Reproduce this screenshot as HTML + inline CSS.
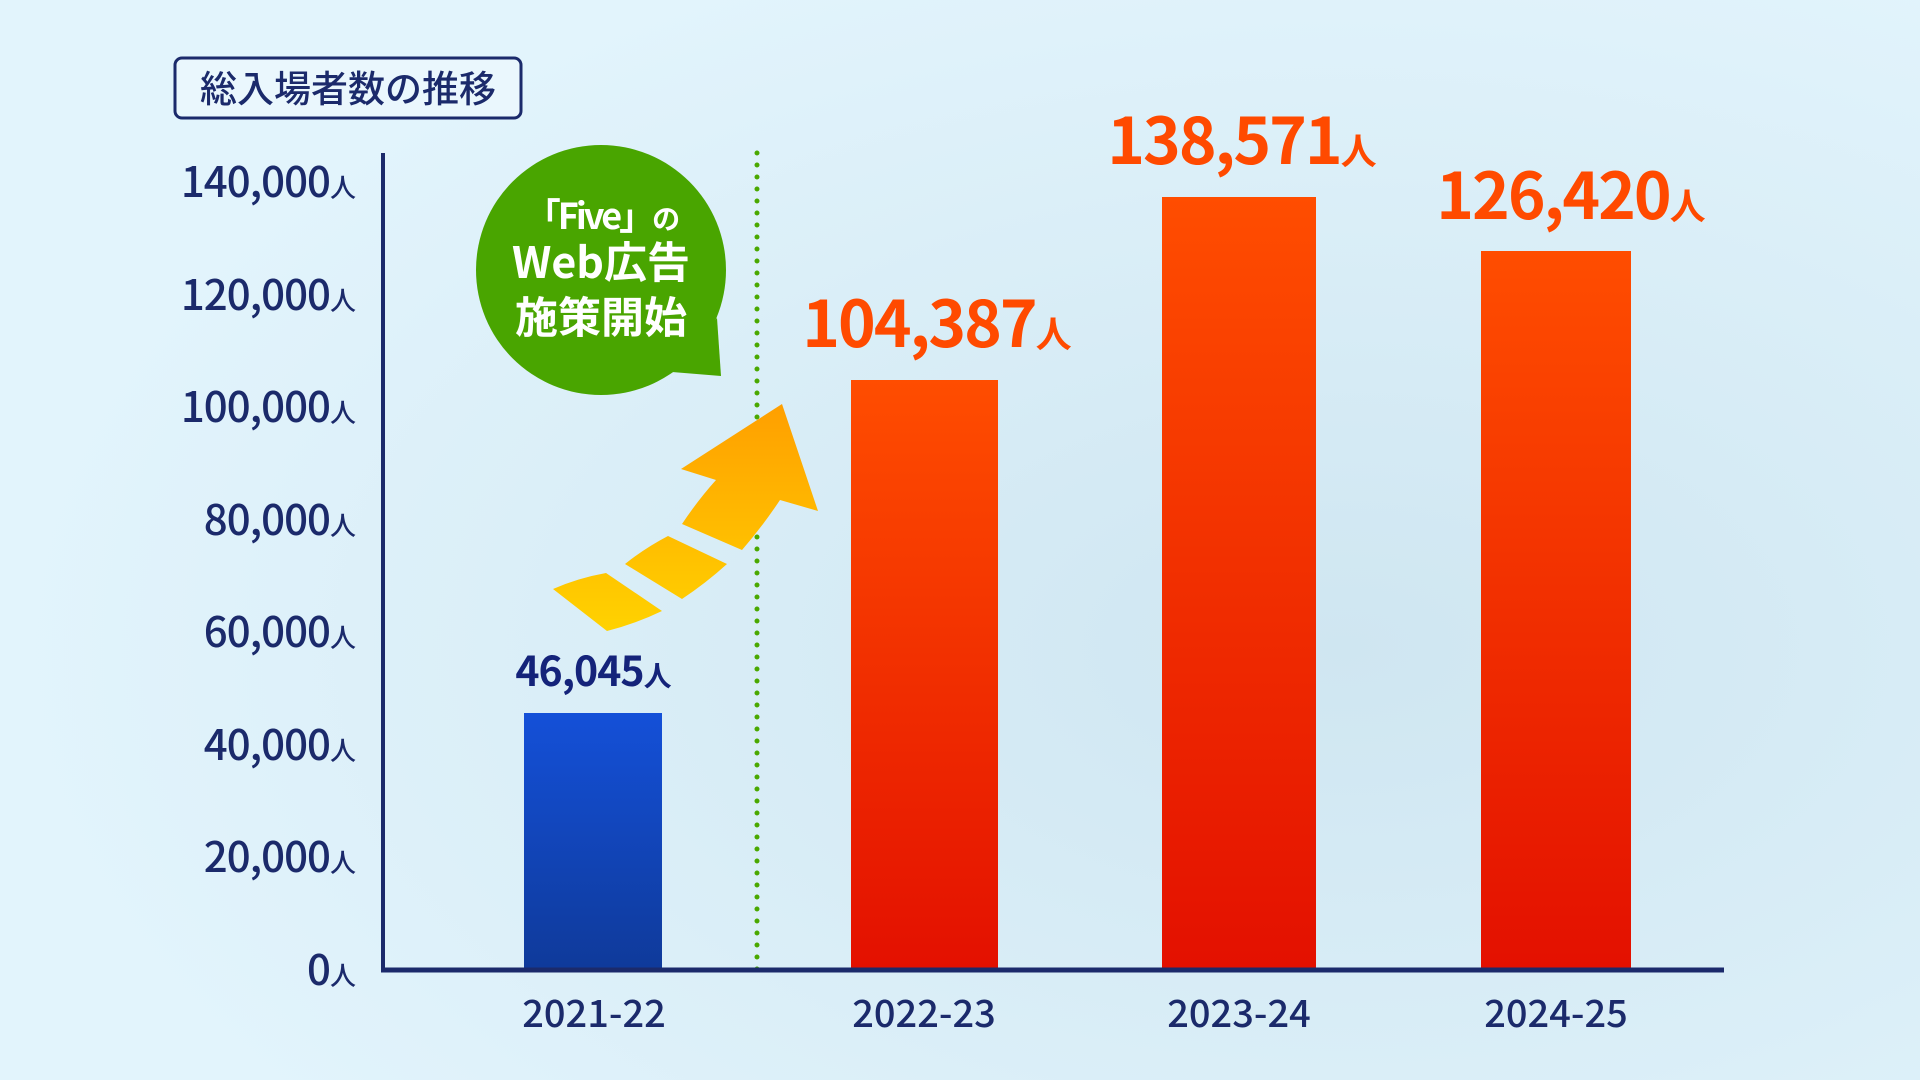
<!DOCTYPE html>
<html><head><meta charset="utf-8"><style>
html,body{margin:0;padding:0;width:1920px;height:1080px;overflow:hidden;background:#dff1fb}
svg{display:block}
text{font-family:"Noto Sans CJK JP","Liberation Sans",sans-serif}
</style></head><body>
<svg width="1920" height="1080" viewBox="0 0 1920 1080" xmlns="http://www.w3.org/2000/svg">
<defs>
<radialGradient id="bg1" cx="0.7" cy="0.6" r="0.7"><stop offset="0" stop-color="#cfe6f1"/><stop offset="1" stop-color="#e2f4fc"/></radialGradient>
<linearGradient id="red" x1="0" y1="0" x2="0" y2="1"><stop offset="0" stop-color="#ff4d00"/><stop offset="1" stop-color="#e31000"/></linearGradient>
<linearGradient id="blue" x1="0" y1="0" x2="0" y2="1"><stop offset="0" stop-color="#1450d8"/><stop offset="1" stop-color="#0f3a9a"/></linearGradient>
<linearGradient id="arrg" x1="0" y1="404" x2="0" y2="631" gradientUnits="userSpaceOnUse"><stop offset="0" stop-color="#ff9f00"/><stop offset="1" stop-color="#ffd200"/></linearGradient>
</defs>
<rect width="1920" height="1080" fill="url(#bg1)"/>
<rect x="175" y="58" width="346" height="60" rx="7" fill="#eaf7fd" stroke="#1b2a6b" stroke-width="3"/>
<text x="348" y="102" font-size="37" fill="#1b2a6b" text-anchor="middle" font-weight="500">総入場者数の推移</text>
<g fill="#1b2a6b" font-size="42" text-anchor="end" font-weight="500" letter-spacing="-1">
<text x="355" y="197">140,000<tspan font-size="26">人</tspan></text>
<text x="355" y="310">120,000<tspan font-size="26">人</tspan></text>
<text x="355" y="422">100,000<tspan font-size="26">人</tspan></text>
<text x="355" y="535">80,000<tspan font-size="26">人</tspan></text>
<text x="355" y="647">60,000<tspan font-size="26">人</tspan></text>
<text x="355" y="760">40,000<tspan font-size="26">人</tspan></text>
<text x="355" y="872">20,000<tspan font-size="26">人</tspan></text>
<text x="355" y="985">0<tspan font-size="26">人</tspan></text>
</g>
<rect x="524" y="713" width="138" height="257" fill="url(#blue)"/>
<rect x="851" y="380" width="147" height="590" fill="url(#red)"/>
<rect x="1162" y="197" width="154" height="773" fill="url(#red)"/>
<rect x="1481" y="251" width="150" height="719" fill="url(#red)"/>
<line x1="757" y1="153" x2="757" y2="970" stroke="#4aa800" stroke-width="5" stroke-linecap="round" stroke-dasharray="0 12"/>
<line x1="383" y1="153" x2="383" y2="972" stroke="#1b2a6b" stroke-width="4"/>
<line x1="381" y1="970" x2="1724" y2="970" stroke="#1b2a6b" stroke-width="5"/>
<g fill="#1b2a6b" font-size="38" text-anchor="middle" font-weight="500">
<text x="594" y="1027">2021-22</text>
<text x="924" y="1027">2022-23</text>
<text x="1239" y="1027">2023-24</text>
<text x="1556" y="1027">2024-25</text>
</g>
<g font-weight="bold" text-anchor="middle" fill="#ff4a00" font-size="64" letter-spacing="-2">
<text x="936" y="347">104,387<tspan font-size="36">人</tspan></text>
<text x="1241" y="164">138,571<tspan font-size="36">人</tspan></text>
<text x="1570" y="219">126,420<tspan font-size="36">人</tspan></text>
</g>
<text x="593" y="686" text-anchor="middle" font-weight="bold" font-size="41" fill="#14237a" letter-spacing="-1">46,045<tspan font-size="28">人</tspan></text>
<ellipse cx="601" cy="270" rx="125" ry="125" fill="#49a500"/>
<polygon points="672,372 721,376 717,318" fill="#49a500"/>
<g fill="#fff" font-weight="bold" text-anchor="middle">
<text x="601" y="229" font-size="36" letter-spacing="-3">「Five」<tspan font-size="28">の</tspan></text>
<text x="601" y="278" font-size="43">Web広告</text>
<text x="601" y="333" font-size="43">施策開始</text>
</g>
<g fill="url(#arrg)">
<path d="M553,589 Q578,578 606,573 L662,611 Q635,624 607,631 Z"/>
<path d="M625,564 Q645,548 668,536 L727,564 Q706,583 682,599 Z"/>
<path d="M682,524 Q698,500 716,480 L681,469 L782,404 L818,511 L780,500 Q762,527 742,550 Z"/>
</g>
</svg>
</body></html>
